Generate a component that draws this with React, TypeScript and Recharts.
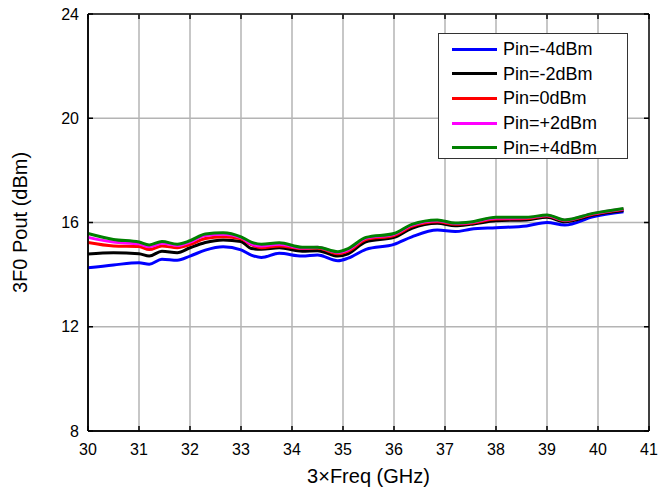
import React from 'react';
import { LineChart, Line, XAxis, YAxis, CartesianGrid } from 'recharts';

const freqs = [30, 30.5, 31, 31.2, 31.45, 31.75, 32, 32.3, 32.65, 33, 33.2, 33.4, 33.75, 34.2, 34.5, 34.9, 35.1, 35.45, 36, 36.35, 36.85, 37.2, 37.5, 38, 38.6, 39, 39.35, 39.9, 40.5];

const pinM4 = [14.26, 14.37, 14.46, 14.4, 14.59, 14.55, 14.71, 14.94, 15.07, 14.95, 14.75, 14.66, 14.82, 14.71, 14.75, 14.53, 14.63, 14.97, 15.16, 15.45, 15.71, 15.65, 15.74, 15.8, 15.87, 16.0, 15.9, 16.22, 16.41];
const pinM2 = [14.79, 14.84, 14.8, 14.71, 14.9, 14.84, 15.03, 15.23, 15.33, 15.27, 15.0, 14.97, 15.03, 14.9, 14.92, 14.71, 14.8, 15.26, 15.43, 15.78, 15.97, 15.88, 15.93, 16.07, 16.1, 16.2, 16.03, 16.29, 16.46];
const pin0 = [15.23, 15.1, 15.08, 14.96, 15.1, 15.03, 15.15, 15.39, 15.45, 15.38, 15.15, 15.03, 15.1, 15.0, 15.02, 14.8, 14.9, 15.35, 15.5, 15.85, 16.03, 15.93, 15.97, 16.13, 16.15, 16.25, 16.07, 16.32, 16.5];
const pinP2 = [15.43, 15.25, 15.18, 15.07, 15.2, 15.12, 15.25, 15.5, 15.55, 15.42, 15.18, 15.1, 15.17, 15.02, 15.05, 14.85, 14.95, 15.4, 15.55, 15.9, 16.07, 15.96, 16.0, 16.17, 16.18, 16.27, 16.09, 16.34, 16.52];
const pinP4 = [15.58, 15.35, 15.25, 15.14, 15.27, 15.17, 15.3, 15.56, 15.61, 15.45, 15.25, 15.17, 15.22, 15.05, 15.05, 14.88, 15.0, 15.43, 15.58, 15.93, 16.1, 15.98, 16.02, 16.2, 16.2, 16.29, 16.1, 16.35, 16.54];

const seriesNames = ['Pin=-4dBm', 'Pin=-2dBm', 'Pin=0dBm', 'Pin=+2dBm', 'Pin=+4dBm'];
const seriesColors = ['#0000ff', '#000000', '#ff0000', '#ff00ff', '#008000'];
const seriesValues = [pinM4, pinM2, pin0, pinP2, pinP4];

const xTicks = [30, 31, 32, 33, 34, 35, 36, 37, 38, 39, 40, 41];
const yTicks = [8, 12, 16, 20, 24];

const xTitle = '3×Freq (GHz)';
const yTitle = '3F0 Pout (dBm)';

const data = freqs.map((f, i) => {
  const row: Record<string, number> = { f };
  seriesValues.forEach((vals, k) => {
    row['s' + k] = vals[i];
  });
  return row;
});

const FONT = '"Liberation Sans", Arial, sans-serif';
const TICK_LEN = 5;
const GRID = '#b4b4b4';

const isEdge = (idx: any, count: number, c: number, lo: any, hi: any) => {
  if (typeof lo === 'number' && typeof hi === 'number') {
    return Math.abs(c - lo) < 0.6 || Math.abs(c - hi) < 0.6;
  }
  return idx === 0 || idx === count - 1;
};

const HGridLine = (p: any) => {
  const { x1, y1, x2, y2 } = p;
  const lo = typeof p.y === 'number' ? p.y : undefined;
  const hi = typeof p.y === 'number' && typeof p.height === 'number' ? p.y + p.height : undefined;
  const edge = isEdge(p.index, yTicks.length, y1, lo, hi);
  return (
    <g>
      <line x1={x1} y1={y1} x2={x2} y2={y2} stroke={edge ? '#000' : GRID} strokeWidth={1.5} />
      <line x1={x1} y1={y1} x2={x1 + TICK_LEN} y2={y1} stroke="#000" strokeWidth={1.5} />
      <line x1={x2} y1={y2} x2={x2 - TICK_LEN} y2={y2} stroke="#000" strokeWidth={1.5} />
    </g>
  );
};

const VGridLine = (p: any) => {
  const { x1, y1, x2, y2 } = p;
  const lo = typeof p.x === 'number' ? p.x : undefined;
  const hi = typeof p.x === 'number' && typeof p.width === 'number' ? p.x + p.width : undefined;
  const edge = isEdge(p.index, xTicks.length, x1, lo, hi);
  const top = Math.min(y1, y2);
  const bot = Math.max(y1, y2);
  return (
    <g>
      <line x1={x1} y1={y1} x2={x2} y2={y2} stroke={edge ? '#000' : GRID} strokeWidth={1.5} />
      <line x1={x1} y1={top} x2={x1} y2={top + TICK_LEN} stroke="#000" strokeWidth={1.5} />
      <line x1={x1} y1={bot} x2={x1} y2={bot - TICK_LEN} stroke="#000" strokeWidth={1.5} />
    </g>
  );
};

const LegendBox = () => (
  <div
    style={{
      position: 'absolute',
      left: 438,
      top: 33,
      width: 190,
      height: 126,
      boxSizing: 'border-box',
      border: '1px solid #333',
      background: '#fff',
      paddingTop: 3,
    }}
  >
    {seriesNames.map((name, i) => (
      <div key={name} style={{ display: 'flex', alignItems: 'center', height: 24.6 }}>
        <div style={{ marginLeft: 13, width: 45, height: 3, background: seriesColors[i] }} />
        <span
          style={{
            marginLeft: 6,
            fontFamily: FONT,
            fontSize: 18,
            color: '#000',
            lineHeight: '20px',
          }}
        >
          {name}
        </span>
      </div>
    ))}
  </div>
);

const tickStyle = { fontSize: 16, fill: '#000', fontFamily: FONT };

export default function App() {
  return (
    <div style={{ position: 'absolute', left: 0, top: 0, width: 660, height: 492, background: '#fff' }}>
      <LineChart width={660} height={492} data={data} margin={{ top: 14, right: 11, bottom: 0, left: 0 }}>
        <CartesianGrid horizontal={HGridLine} vertical={VGridLine} />
        <XAxis
          dataKey="f"
          type="number"
          domain={[30, 41]}
          ticks={xTicks}
          height={61}
          tickLine={false}
          tickMargin={7}
          tick={tickStyle}
          axisLine={{ stroke: '#000', strokeWidth: 1.5 }}
          interval={0}
          label={{ value: xTitle, position: 'insideBottom', offset: 9, fontSize: 20, fontFamily: FONT, fill: '#000' }}
        />
        <YAxis
          type="number"
          domain={[8, 24]}
          ticks={yTicks}
          width={88}
          tickLine={false}
          tickMargin={3}
          tick={tickStyle}
          axisLine={{ stroke: '#000', strokeWidth: 1.5 }}
          interval={0}
          label={{
            value: yTitle,
            angle: -90,
            position: 'insideLeft',
            offset: 20,
            fontSize: 20,
            fontFamily: FONT,
            fill: '#000',
            style: { textAnchor: 'middle' },
          }}
        />
        {seriesNames.map((name, i) => (
          <Line
            key={name}
            dataKey={'s' + i}
            name={name}
            type="monotone"
            stroke={seriesColors[i]}
            strokeWidth={3}
            dot={false}
            activeDot={false}
            isAnimationActive={false}
          />
        ))}
      </LineChart>
      <LegendBox />
    </div>
  );
}
